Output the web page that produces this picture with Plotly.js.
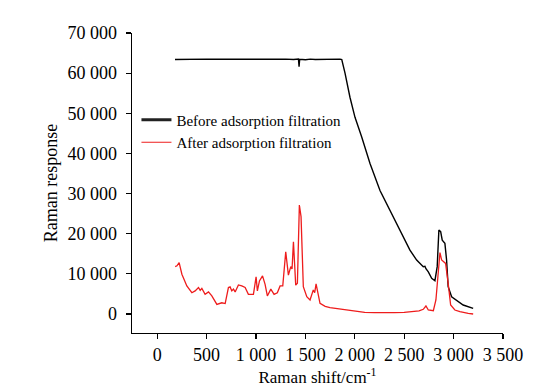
<!DOCTYPE html>
<html>
<head>
<meta charset="utf-8">
<script src="https://cdn.plot.ly/plotly-3.0.1.min.js"></script>
<style>html,body{margin:0;padding:0;background:#fff;}#chart{width:558px;height:392px;}</style>
</head>
<body>
<div id="chart"></div>
<script>
// Raman shift (cm^-1) and response values
const beforeShift = [180, 300, 400, 500, 600, 700, 800, 900, 1000, 1100, 1200, 1300, 1380, 1430, 1436, 1442, 1500, 1550, 1600, 1700, 1800, 1850, 1868, 1901, 1951, 2002, 2070, 2154, 2255, 2356, 2457, 2558, 2626, 2693, 2710, 2720, 2744, 2778, 2811, 2834, 2851, 2869, 2885, 2912, 2929, 2945, 2980, 3030, 3097, 3198];
const beforeResp  = [63400, 63500, 63450, 63500, 63450, 63500, 63450, 63500, 63450, 63500, 63450, 63500, 63400, 63500, 61600, 63450, 63350, 63500, 63400, 63500, 63500, 63500, 63400, 60000, 54000, 49000, 44100, 37500, 30750, 25750, 20750, 15900, 13450, 11800, 11900, 11300, 10500, 8900, 8300, 11800, 20900, 20500, 18400, 17600, 13450, 6800, 4300, 3500, 2240, 1400];

const afterShift = [182, 200, 222, 250, 300, 351, 384, 418, 435, 452, 485, 519, 553, 604, 654, 688, 721, 738, 755, 772, 789, 822, 856, 890, 923, 974, 1001, 1014, 1035, 1066, 1092, 1115, 1150, 1183, 1216, 1244, 1271, 1301, 1328, 1352, 1365, 1379, 1402, 1419, 1439, 1456, 1479, 1514, 1547, 1580, 1594, 1608, 1648, 1700, 1749, 1800, 1884, 1950, 2019, 2100, 2200, 2300, 2400, 2500, 2600, 2650, 2693, 2720, 2744, 2795, 2821, 2845, 2862, 2879, 2895, 2919, 2945, 2970, 3013, 3064, 3148, 3198];
const afterResp  = [11800, 12000, 12800, 9900, 7000, 5300, 5750, 6600, 5900, 6400, 4900, 5500, 4500, 2400, 2800, 2600, 6600, 6750, 5750, 6200, 5500, 7250, 7000, 6600, 4900, 4900, 9250, 5750, 8250, 9500, 7400, 4500, 6200, 4900, 5300, 7000, 7000, 15500, 9700, 11800, 11200, 18000, 7200, 7650, 27150, 24250, 6800, 4300, 3500, 6000, 5300, 7500, 2660, 1900, 1600, 1400, 1200, 900, 600, 400, 350, 300, 350, 400, 600, 800, 1170, 2000, 1000, 820, 3500, 11800, 15300, 13450, 13000, 12600, 7650, 2240, 1000, 580, 170, 0];

const seriesNames = ['Before adsorption filtration', 'After adsorption filtration'];
const xTitle = 'Raman shift/cm<sup>-1</sup>';
const yTitle = 'Raman response';

const font = 'Liberation Serif, Times New Roman, serif';

const traces = [
  {x: beforeShift, y: beforeResp, mode: 'lines', line: {color: '#000000', width: 1.4}, showlegend: false, hoverinfo: 'skip'},
  {x: afterShift, y: afterResp, mode: 'lines', line: {color: '#ee1c1c', width: 1.3}, showlegend: false, hoverinfo: 'skip'},
  {x: [null], y: [null], mode: 'lines', name: seriesNames[0], line: {color: '#222222', width: 3.2}},
  {x: [null], y: [null], mode: 'lines', name: seriesNames[1], line: {color: '#ee1c1c', width: 1.2}}
];

const axisCommon = {
  showgrid: false, zeroline: false, showline: true, linecolor: '#000', linewidth: 1.3,
  ticks: 'outside', ticklen: 5, tickwidth: 1.2, tickcolor: '#000',
  tickfont: {family: font, size: 18, color: '#000'}, separatethousands: true, tickformat: ',d'
};

const layout = {
  width: 558, height: 392,
  margin: {l: 132, r: 55, t: 33, b: 59},
  paper_bgcolor: '#fff', plot_bgcolor: '#fff',
  separators: '. ',
  font: {family: font, color: '#000'},
  showlegend: true,
  legend: {x: 0.012, y: 0.765, xanchor: 'left', yanchor: 'top', bgcolor: 'rgba(0,0,0,0)', font: {family: font, size: 15, color: '#000'}, tracegroupgap: 0},
  xaxis: Object.assign({}, axisCommon, {range: [-255, 3500], tick0: 0, dtick: 500, title: {text: xTitle, font: {family: font, size: 17}, standoff: 2}}),
  yaxis: Object.assign({}, axisCommon, {range: [-4730, 70000], tick0: 0, dtick: 10000, ticklabelstandoff: 5, title: {text: yTitle, font: {family: font, size: 18}, standoff: 5}})
};

Plotly.newPlot('chart', traces, layout, {staticPlot: true, displayModeBar: false});
</script>
</body>
</html>
